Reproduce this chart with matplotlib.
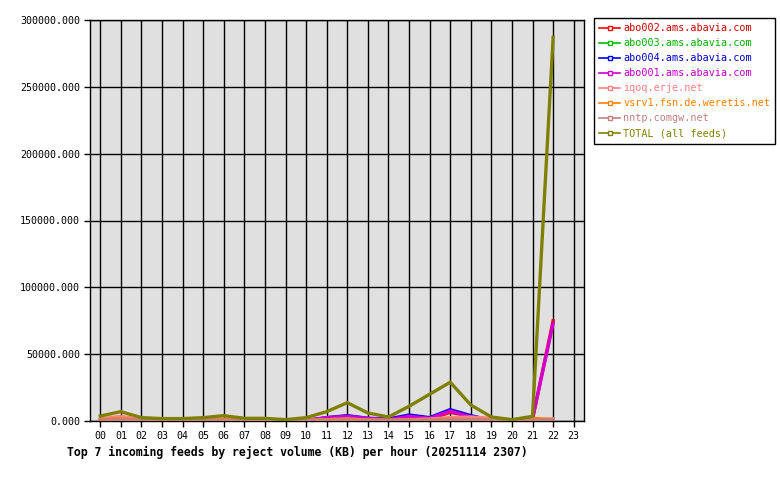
import matplotlib
matplotlib.use("Agg")
import matplotlib.pyplot as plt
from matplotlib.lines import Line2D
from matplotlib.ticker import FuncFormatter, MultipleLocator

hours = list(range(23))
hour_labels = [f"{h:02d}" for h in range(24)]

abo002 = [300, 500, 200, 100, 100, 200, 300, 100, 100, 50, 300, 1500, 2500, 1500, 800,
          3000, 1500, 6500, 3500, 500, 200, 1500, 75000]
abo003 = [100, 200, 100, 50, 50, 100, 100, 50, 50, 50, 100, 800, 1500, 500, 300,
          500, 300, 500, 300, 100, 50, 200, 300]
abo004 = [200, 400, 200, 100, 100, 200, 300, 100, 100, 50, 400, 2500, 4000, 2000, 1500,
          4500, 2500, 8500, 4000, 500, 200, 1500, 500]
abo001 = [500, 1500, 300, 200, 200, 300, 500, 200, 200, 100, 500, 2500, 3500, 2000, 1000,
          3500, 2000, 7500, 3000, 500, 200, 2000, 73000]
iqoq = [1500, 3500, 1000, 500, 500, 800, 1500, 500, 500, 300, 500, 1000, 1500, 800, 500,
        1000, 1500, 2500, 3000, 2000, 500, 1000, 1500]
vsrv1 = [1000, 1500, 500, 300, 300, 500, 1000, 300, 300, 200, 500, 1000, 1200, 800, 500,
         800, 800, 1200, 1000, 800, 500, 2000, 1000]
nntp = [500, 800, 500, 300, 300, 500, 500, 300, 300, 200, 300, 500, 600, 500, 400,
        500, 600, 800, 800, 500, 300, 500, 800]
total = [3700, 7000, 2500, 1800, 1800, 2500, 4000, 2000, 2000, 1000, 2500, 7000, 13700, 6000, 3000,
         11000, 20000, 29000, 12000, 3000, 1000, 3500, 287000]

series = [
    ("abo002.ams.abavia.com", abo002, "#ff0000", "#d00000"),
    ("abo003.ams.abavia.com", abo003, "#00c000", "#00b000"),
    ("abo004.ams.abavia.com", abo004, "#0000ff", "#0000d0"),
    ("abo001.ams.abavia.com", abo001, "#d000d0", "#c000c0"),
    ("iqoq.erje.net", iqoq, "#ff8080", "#ff8080"),
    ("vsrv1.fsn.de.weretis.net", vsrv1, "#ff8000", "#ff8000"),
    ("nntp.comgw.net", nntp, "#c08080", "#c08080"),
    ("TOTAL (all feeds)", total, "#808000", "#808000"),
]

MONO = "DejaVu Sans Mono"

fig = plt.figure(figsize=(7.8, 4.8), dpi=100, facecolor="white")
ax = fig.add_axes([90 / 780, 59 / 480, 494 / 780, 401 / 480])
ax.set_facecolor("#e0e0e0")

for name, vals, col, _ in series:
    ax.plot(hours, vals, color=col, linewidth=2.4, solid_joinstyle="miter", zorder=3)

ax.set_xlim(-0.5, 23.5)
ax.set_ylim(0, 300000)
ax.set_xticks(range(24))
ax.set_xticklabels(hour_labels)
ax.yaxis.set_major_locator(MultipleLocator(50000))
ax.yaxis.set_major_formatter(FuncFormatter(lambda v, p: f"{v:.3f}"))
ax.grid(True, color="black", linewidth=1.0, zorder=1)
ax.set_axisbelow(True)
for sp in ax.spines.values():
    sp.set_color("black")
    sp.set_linewidth(1.0)
ax.tick_params(direction="out", length=4, width=1, colors="black", labelsize=7.2, pad=3)
for lab in ax.get_xticklabels() + ax.get_yticklabels():
    lab.set_family(MONO)
    lab.set_color("black")

fig.text(67 / 780, 1 - 452 / 480, "Top 7 incoming feeds by reject volume (KB) per hour (20251114 2307)",
         family=MONO, fontsize=8.3, fontweight="bold", ha="left", va="center")

handles = [Line2D([0], [0], color=col, linewidth=1.2, marker="s", markersize=3,
                  markerfacecolor="white", markeredgecolor=col) for _, _, col, _ in series]
labels = [s[0] for s in series]
leg = fig.legend(handles, labels, loc="upper left", bbox_to_anchor=(594 / 780, 1 - 18 / 480),
                 prop={"family": MONO, "size": 7.3}, frameon=True, fancybox=False,
                 edgecolor="black", facecolor="white", framealpha=1, handlelength=2.1,
                 handletextpad=0.3, labelspacing=0.5, borderpad=0.5, borderaxespad=0)
leg.get_frame().set_linewidth(1.0)
for txt, s in zip(leg.get_texts(), series):
    txt.set_color(s[3])

fig.savefig("out.png", dpi=100, facecolor="white")
